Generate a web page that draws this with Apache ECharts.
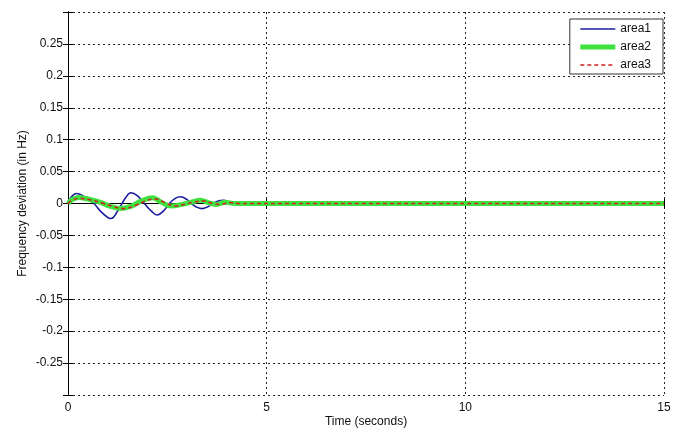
<!DOCTYPE html>
<html>
<head>
<meta charset="utf-8">
<script src="https://cdn.jsdelivr.net/npm/echarts@6/dist/echarts.min.js"></script>
<style>html,body{margin:0;padding:0;background:#fff;}#c{width:684px;height:430px;}</style>
</head>
<body>
<div id="c"></div>
<script>
const seriesNames = ['area1', 'area2', 'area3'];
const area1T = [0, 0.08, 0.21, 0.4, 0.65, 0.85, 1.08, 1.3, 1.45, 1.58, 1.75, 1.95, 2.1, 2.24, 2.4, 2.55, 2.7, 2.83, 3.0, 3.1, 3.22, 3.37, 3.52, 3.64, 3.78, 3.91, 4.1, 4.4, 5, 15];
const area1V = [0, 0.010, 0.0157, 0.011, 0.000, -0.014, -0.0236, -0.006, 0.009, 0.0168, 0.012, -0.002, -0.012, -0.018, -0.012, 0.000, 0.008, 0.0105, 0.006, 0.000, -0.005, -0.008, -0.005, 0.000, 0.004, 0.005, 0.001, 0, 0, 0];
const area2T = [0, 0.1, 0.26, 0.5, 0.8, 1.05, 1.33, 1.6, 1.85, 2.13, 2.35, 2.6, 2.9, 3.1, 3.33, 3.55, 3.75, 3.95, 4.2, 4.6, 5, 15];
const area2V = [0, 0.006, 0.0094, 0.007, 0.002, -0.004, -0.008, -0.004, 0.004, 0.009, 0.002, -0.004, -0.001, 0.002, 0.005, 0.001, -0.0015, 0.002, 0, 0, 0, 0];
const area3T = [0, 0.1, 0.3, 0.55, 0.85, 1.1, 1.4, 1.7, 1.95, 2.2, 2.45, 2.7, 2.95, 3.15, 3.4, 3.65, 3.85, 4.05, 4.3, 4.6, 5, 15];
const area3V = [0, 0.005, 0.008, 0.006, 0.001, -0.004, -0.008, -0.003, 0.004, 0.007, 0.001, -0.004, -0.001, 0.002, 0.004, 0.000, -0.0015, 0.0015, 0, 0, 0, 0];
const xTicks = [0, 5, 10, 15];
const yMin = -0.3, yMax = 0.3, yStep = 0.05;

const pairs = (t, v) => t.map((x, i) => [x, v[i]]);
const font = 'Liberation Sans, Arial, sans-serif';
const gridLine = { show: true, lineStyle: { color: '#222', type: [2, 3], width: 1 } };
const tick = { show: true, inside: true, length: 5, lineStyle: { color: '#000' } };
const axLine = { show: true, lineStyle: { color: '#000', width: 1 } };

const chart = echarts.init(document.getElementById('c'), null, { renderer: 'canvas' });
chart.setOption({
  animation: false,
  backgroundColor: '#fff',
  grid: { left: 68, right: 20, top: 12, bottom: 35, containLabel: false, outerBoundsMode: 'none' },
  legend: {
    data: seriesNames,
    orient: 'vertical',
    right: 21,
    top: 19,
    backgroundColor: '#fff',
    borderColor: '#333',
    borderWidth: 1,
    borderRadius: 0,
    padding: [4, 12, 3, 8],
    itemGap: 6,
    itemWidth: 35,
    itemHeight: 14,
    itemStyle: { opacity: 0 },
    lineStyle: { width: 'inherit' },
    textStyle: { fontFamily: font, fontSize: 12, color: '#111' }
  },
  xAxis: [{
    type: 'value', min: xTicks[0], max: xTicks[xTicks.length - 1], interval: 5,
    name: 'Time (seconds)', nameLocation: 'middle', nameGap: 21, nameMoveOverlap: false,
    nameTextStyle: { fontFamily: font, fontSize: 12, color: '#111' },
    axisLine: axLine, axisTick: tick, splitLine: gridLine,
    axisLabel: { fontFamily: font, fontSize: 12, color: '#111', margin: 7 }
  }, {
    type: 'value', position: 'top', min: xTicks[0], max: xTicks[xTicks.length - 1], interval: 5,
    axisLine: axLine, axisTick: tick, splitLine: { show: false }, axisLabel: { show: false }
  }],
  yAxis: [{
    type: 'value', min: yMin, max: yMax, interval: yStep,
    name: 'Frequency deviation (in Hz)', nameLocation: 'middle', nameGap: 39, nameMoveOverlap: false,
    nameTextStyle: { fontFamily: font, fontSize: 12, color: '#111' },
    axisLine: axLine, axisTick: tick, splitLine: gridLine,
    axisLabel: {
      fontFamily: font, fontSize: 12, color: '#111', margin: 5,
      formatter: v => Math.abs(v) > 0.299 ? '' : String(+v.toFixed(2))
    }
  }, {
    type: 'value', position: 'right', min: yMin, max: yMax, interval: yStep,
    axisLine: axLine, axisTick: tick, splitLine: { show: false }, axisLabel: { show: false }
  }],
  series: [
    { name: seriesNames[0], type: 'line', data: pairs(area1T, area1V), smooth: 0.4, showSymbol: false, symbol: 'none',
      lineStyle: { color: '#1c1ca0', width: 1.6 }, itemStyle: { color: '#1c1ca0' } },
    { name: seriesNames[1], type: 'line', data: pairs(area2T, area2V), smooth: 0.4, showSymbol: false, symbol: 'none',
      lineStyle: { color: '#3ee23e', width: 5 }, itemStyle: { color: '#3ee23e' } },
    { name: seriesNames[2], type: 'line', data: pairs(area3T, area3V), smooth: 0.4, showSymbol: false, symbol: 'none',
      lineStyle: { color: '#d42020', width: 1.6, type: [4, 3] }, itemStyle: { color: '#d42020' } }
  ]
});
</script>
</body>
</html>
